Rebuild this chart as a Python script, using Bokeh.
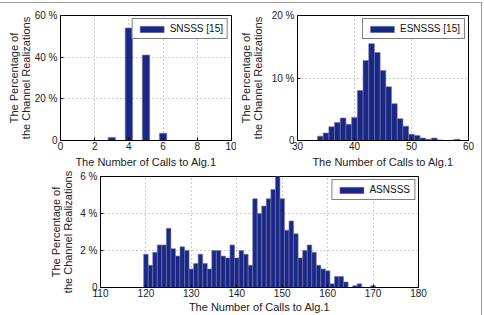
from bokeh.plotting import figure
from bokeh.layouts import column, row
from bokeh.models import FixedTicker, Legend, LegendItem
from bokeh.embed import file_html
from bokeh.resources import INLINE

# Histogram data: number of calls to Alg.1 vs percentage of channel realizations
sn_calls = [3, 4, 5, 6]
sn_pct = [1.5, 54.0, 41.0, 3.5]

es_calls = list(range(34, 59))
es_pct = [0.7, 1.2, 2.2, 2.9, 3.6, 2.6, 3.7, 8.0, 12.8, 15.5, 14.1, 11.2, 8.6,
          5.9, 3.5, 2.3, 1.0, 0.8, 0.4, 0.2, 0.4, 0.1, 0.0, 0.05, 0.2]

as_calls = list(range(120, 171))
as_pct = [1.8, 1.2, 1.9, 2.3, 2.3, 3.2, 2.1, 1.7, 2.2, 2.0,
          1.0, 1.3, 1.8, 1.3, 1.0, 2.0, 2.0, 1.7, 1.6, 2.3,
          1.6, 2.0, 1.8, 1.2, 4.8, 4.0, 4.4, 4.8, 5.3, 6.0,
          4.8, 3.1, 3.6, 2.9, 1.6, 2.0, 2.3, 1.9, 1.2, 1.0,
          0.9, 0.2, 0.6, 0.6, 0.3, 0.0, 0.1, 0.2, 0.0, 0.0, 0.1]

sn_xticks = [0, 2, 4, 6, 8, 10]
sn_yticks = [0, 20, 40, 60]
es_xticks = [30, 40, 50, 60]
es_yticks = [0, 10, 20]
as_xticks = [110, 120, 130, 140, 150, 160, 170, 180]
as_yticks = [0, 2, 4, 6]

XLABEL = "The Number of Calls to Alg.1"
YLABEL = "The Percentage of\nthe Channel Realizations"

FONT = "Liberation Sans"
BAR_FILL = "#1b2785"
BAR_EDGE = "#7078ad"


def pct_labels(ticks):
    return {t: ("0" if t == 0 else f"{t} %") for t in ticks}


def panel(width, height, xr, yr, xticks, yticks, borders, ylab_gap, xlab_gap):
    left, right, top, bottom = borders
    p = figure(width=width, height=height, x_range=xr, y_range=yr,
               output_backend="svg", toolbar_location=None,
               min_border_left=left, min_border_right=right,
               min_border_top=top, min_border_bottom=bottom)
    p.outline_line_color = "black"
    p.outline_line_width = 1
    for ax in (p.xaxis[0], p.yaxis[0]):
        ax.axis_line_color = "black"
        ax.major_tick_in = 3
        ax.major_tick_out = 0
        ax.minor_tick_in = 0
        ax.minor_tick_out = 0
        ax.major_label_text_font = FONT
        ax.major_label_text_font_size = "10px"
        ax.major_label_text_color = "#222222"
        ax.axis_label_text_font = FONT
        ax.axis_label_text_font_size = "11px"
        ax.axis_label_text_font_style = "normal"
        ax.axis_label_text_color = "#222222"
        ax.axis_label_text_line_height = 1.0
    p.xaxis.ticker = FixedTicker(ticks=xticks)
    p.yaxis.ticker = FixedTicker(ticks=yticks)
    p.yaxis.major_label_overrides = pct_labels(yticks)
    p.xaxis.axis_label = XLABEL
    p.yaxis.axis_label = YLABEL
    p.xaxis.major_label_standoff = 1
    p.xaxis.axis_label_standoff = xlab_gap
    p.yaxis.major_label_standoff = 3
    p.yaxis.axis_label_standoff = ylab_gap
    for g in (p.xgrid[0], p.ygrid[0]):
        g.grid_line_color = "#9a9a9a"
        g.grid_line_dash = "1 3"
        g.grid_line_width = 1
    return p


def add_legend(p, renderer, label):
    leg = Legend(items=[LegendItem(label=label, renderers=[renderer])],
                 location="top_right", margin=3, padding=4, spacing=0,
                 glyph_width=30, glyph_height=8, label_standoff=3,
                 label_text_font=FONT, label_text_font_size="10px",
                 label_text_color="#111111", label_height=9,
                 border_line_color="black", border_line_width=1,
                 background_fill_alpha=1)
    p.add_layout(leg)


p1 = panel(236, 167, (0, 10), (0, 60), sn_xticks, sn_yticks,
           (60, 5, 12, 28), 0, 3)
r1 = p1.vbar(x=sn_calls, top=sn_pct, width=0.43, bottom=0,
             fill_color=BAR_FILL, line_color=BAR_EDGE, line_width=0.6)
add_legend(p1, r1, "SNSSS [15]")

p2 = panel(245, 167, (30, 60), (0, 20), es_xticks, es_yticks,
           (55, 13, 12, 28), 5, 3)
r2 = p2.vbar(x=es_calls, top=es_pct, width=1.0, bottom=0,
             fill_color=BAR_FILL, line_color=BAR_EDGE, line_width=0.6)
add_legend(p2, r2, "ESNSSS [15]")

p3 = panel(481, 145, (110, 180), (0, 6), as_xticks, as_yticks,
           (100, 63, 6, 26), 3, 1)
r3 = p3.vbar(x=as_calls, top=as_pct, width=1.0, bottom=0,
             fill_color=BAR_FILL, line_color=BAR_EDGE, line_width=0.6)
add_legend(p3, r3, "ASNSSS")

layout = column(row(p1, p2, spacing=0), p3, spacing=0,
                styles={"border-top": "1px solid #a0a0a0",
                        "border-right": "1px solid #a0a0a0",
                        "margin-top": "2px"})

open("out.html", "w").write(file_html(layout, INLINE))
